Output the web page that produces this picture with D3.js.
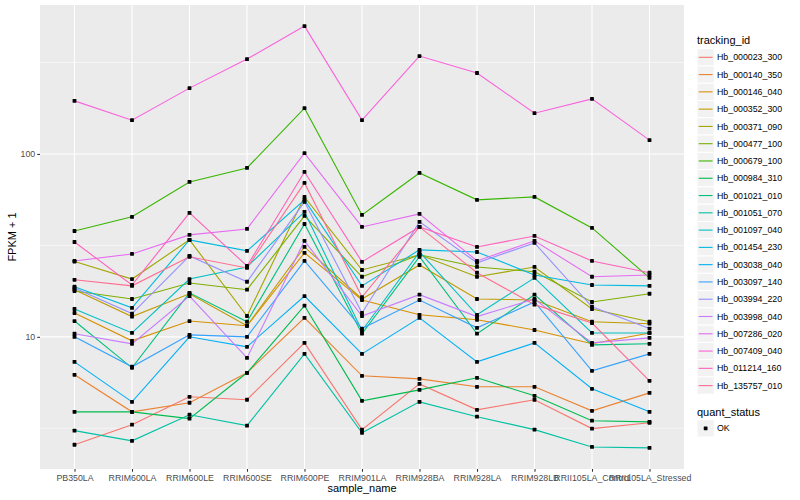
<!DOCTYPE html>
<html><head><meta charset="utf-8">
<script src="https://cdn.jsdelivr.net/npm/d3@7"></script>
<style>
body{margin:0;background:#fff}
text{font-family:"Liberation Sans",Arial,Helvetica,sans-serif}
</style>
</head><body>
<svg id="chart" width="800" height="500"></svg>
<script>
// ---------------- data ----------------
const samples = ["PB350LA","RRIM600LA","RRIM600LE","RRIM600SE","RRIM600PE","RRIM901LA","RRIM928BA","RRIM928LA","RRIM928LB","RRII105LA_Control","RRII105LA_Stressed"];
const trackingIds = ["Hb_000023_300","Hb_000140_350","Hb_000146_040","Hb_000352_300","Hb_000371_090","Hb_000477_100","Hb_000679_100","Hb_000984_310","Hb_001021_010","Hb_001051_070","Hb_001097_040","Hb_001454_230","Hb_003038_040","Hb_003097_140","Hb_003994_220","Hb_003998_040","Hb_007286_020","Hb_007409_040","Hb_011214_160","Hb_135757_010"];

// FPKM + 1, one value per sample
const Hb_000023_300 = [2.57, 3.31, 4.70, 4.53, 9.27, 3.11, 5.53, 3.99, 4.53, 3.15, 3.39];
const Hb_000140_350 = [6.20, 3.89, 4.36, 6.36, 12.7, 6.12, 5.89, 5.33, 5.33, 3.94, 4.94];
const Hb_000146_040 = [13.5, 9.51, 12.2, 11.5, 28.8, 15.9, 13.2, 12.4, 10.9, 9.16, 10.5];
const Hb_000352_300 = [18.1, 12.9, 17.2, 11.5, 31.0, 16.1, 24.7, 16.1, 15.9, 12.1, 11.8];
const Hb_000371_090 = [25.8, 20.7, 33.9, 13.0, 58.2, 23.2, 28.1, 21.3, 24.1, 14.2, 12.1];
const Hb_000477_100 = [17.8, 16.1, 19.7, 18.1, 45.8, 21.3, 28.1, 24.1, 22.7, 15.5, 17.2];
const Hb_000679_100 = [37.9, 45.3, 70.3, 83.8, 178, 46.4, 78.7, 56.1, 58.2, 39.4, 21.0];
const Hb_000984_310 = [3.89, 3.89, 3.57, 6.36, 14.8, 4.47, 5.13, 5.97, 4.76, 3.48, 3.43];
const Hb_001021_010 = [12.2, 6.77, 17.4, 12.1, 41.4, 10.4, 27.4, 10.4, 17.0, 9.04, 9.16];
const Hb_001051_070 = [3.07, 2.70, 3.75, 3.27, 8.07, 2.99, 4.41, 3.66, 3.11, 2.50, 2.47];
const Hb_001097_040 = [14.2, 10.5, 20.7, 24.1, 48.2, 10.8, 29.1, 13.2, 21.0, 10.5, 10.5];
const Hb_001454_230 = [18.8, 14.4, 33.9, 29.5, 56.1, 19.0, 29.9, 29.1, 21.8, 19.2, 19.0];
const Hb_003038_040 = [7.30, 4.41, 10.0, 8.82, 16.7, 8.07, 12.7, 7.30, 9.27, 5.20, 3.89];
const Hb_003097_140 = [10.0, 6.86, 10.25, 10.0, 26.0, 11.1, 15.9, 11.2, 15.5, 6.52, 8.07];
const Hb_003994_220 = [18.5, 13.4, 27.7, 20.0, 54.7, 13.5, 42.5, 25.4, 32.6, 14.6, 11.1];
const Hb_003998_040 = [10.4, 9.16, 16.7, 7.67, 33.5, 13.0, 17.0, 12.9, 16.1, 9.27, 9.87];
const Hb_007286_020 = [26.0, 28.4, 36.1, 38.9, 101, 39.9, 47.0, 26.0, 33.5, 21.3, 21.8];
const Hb_007409_040 = [195, 153, 229, 330, 500, 153, 343, 277, 167, 200, 119];
const Hb_011214_160 = [33.0, 19.2, 47.6, 24.4, 79.7, 25.7, 39.9, 31.0, 35.6, 26.0, 22.4];
const Hb_135757_010 = [20.5, 19.0, 27.4, 23.8, 69.4, 16.5, 39.9, 22.4, 15.0, 11.9, 5.75];

const seriesValues = [Hb_000023_300,Hb_000140_350,Hb_000146_040,Hb_000352_300,Hb_000371_090,Hb_000477_100,Hb_000679_100,Hb_000984_310,Hb_001021_010,Hb_001051_070,Hb_001097_040,Hb_001454_230,Hb_003038_040,Hb_003097_140,Hb_003994_220,Hb_003998_040,Hb_007286_020,Hb_007409_040,Hb_011214_160,Hb_135757_010];
const yTickValues = [10, 100];
const yMinorValues = [Math.pow(10,0.5), Math.pow(10,1.5), Math.pow(10,2.5)];
const quantStatus = ["OK"];

// ggplot hue palette for 20 levels
const palette = ["#F8766D","#EA8331","#D89000","#C09B00","#A3A500","#7CAE00","#39B600","#00BB4E","#00BF7D","#00C1A3","#00BFC4","#00BAE0","#00B0F6","#35A2FF","#9590FF","#C77CFF","#E76BF3","#FA62DB","#FF62BC","#FF6C91"];

// ---------------- chart ----------------
const series = trackingIds.map((id, i) => ({
  id, values: samples.map((s, j) => ({sample: s, v: seriesValues[i][j], status: "OK"}))
}));

const P = {l: 40, r: 684, t: 5, b: 469};
const svg = d3.select("#chart");

const x = d3.scalePoint().domain(samples).range([P.l, P.r]).padding(0.6);
const all = seriesValues.flat();
const lmin = Math.log10(d3.min(all)), lmax = Math.log10(d3.max(all));
const pad = (lmax - lmin) * 0.05;
const y = d3.scaleLog().domain([Math.pow(10, lmin - pad), Math.pow(10, lmax + pad)]).range([P.b, P.t]);
const color = d3.scaleOrdinal().domain(trackingIds).range(palette);

// panel
svg.append("rect").attr("x", P.l).attr("y", P.t).attr("width", P.r - P.l).attr("height", P.b - P.t).attr("fill", "#EBEBEB");

const grid = svg.append("g");
grid.selectAll("line.minor").data(yMinorValues).join("line")
  .attr("x1", P.l).attr("x2", P.r).attr("y1", d => y(d)).attr("y2", d => y(d))
  .attr("stroke", "#fff").attr("stroke-width", 0.55);
grid.selectAll("line.majy").data(yTickValues).join("line")
  .attr("x1", P.l).attr("x2", P.r).attr("y1", d => y(d)).attr("y2", d => y(d))
  .attr("stroke", "#fff").attr("stroke-width", 1.1);
grid.selectAll("line.majx").data(samples).join("line")
  .attr("x1", d => x(d)).attr("x2", d => x(d)).attr("y1", P.t).attr("y2", P.b)
  .attr("stroke", "#fff").attr("stroke-width", 1.1);

// lines
const line = d3.line().x(d => x(d.sample)).y(d => y(d.v));
svg.append("g").selectAll("path").data(series).join("path")
  .attr("d", d => line(d.values)).attr("fill", "none")
  .attr("stroke", d => color(d.id)).attr("stroke-width", 1.1);

// points
svg.append("g").selectAll("rect").data(series.flatMap(s => s.values)).join("rect")
  .attr("x", d => x(d.sample) - 1.9).attr("y", d => y(d.v) - 1.9)
  .attr("width", 3.8).attr("height", 3.8).attr("rx", 0.6).attr("fill", "#000");

// axes
const yAxis = svg.append("g").attr("transform", `translate(${P.l},0)`)
  .call(d3.axisLeft(y).tickValues(yTickValues).tickFormat(d3.format("d")).tickSize(2.75).tickPadding(2));
const xAxis = svg.append("g").attr("transform", `translate(0,${P.b})`)
  .call(d3.axisBottom(x).tickSize(2.75).tickPadding(3));
[yAxis, xAxis].forEach(a => {
  a.select(".domain").remove();
  a.selectAll(".tick line").attr("stroke", "#333333").attr("stroke-width", 1.07);
  a.selectAll(".tick text").attr("fill", "#4D4D4D").style("font-size", "8.8px")
    .style("font-family", '"Liberation Sans",Arial,sans-serif');
});

svg.append("text").attr("x", (P.l + P.r) / 2).attr("y", 492).attr("text-anchor", "middle")
  .style("font-size", "11px").text("sample_name");
svg.append("text").attr("transform", `translate(16,${(P.t + P.b) / 2}) rotate(-90)`)
  .attr("text-anchor", "middle").style("font-size", "11px").text("FPKM + 1");

// legend: tracking_id
const lg = svg.append("g");
lg.append("text").attr("x", 697).attr("y", 44).style("font-size", "11px").text("tracking_id");
const step = 17.28, y0 = 57.3;
const items = lg.selectAll("g.item").data(trackingIds).join("g")
  .attr("transform", (d, i) => `translate(697,${y0 + i * step})`);
items.append("rect").attr("x", 0).attr("y", -step / 2).attr("width", step).attr("height", step)
  .attr("fill", "#F2F2F2").attr("stroke", "#fff").attr("stroke-width", 1);
items.append("line").attr("x1", 1.7).attr("x2", step - 1.7).attr("y1", 0).attr("y2", 0)
  .attr("stroke", d => color(d)).attr("stroke-width", 1.1);
items.append("text").attr("x", 20).attr("y", 3.1).style("font-size", "8.8px").attr("fill", "#000").text(d => d);

// legend: quant_status
lg.append("text").attr("x", 697).attr("y", 416).style("font-size", "11px").text("quant_status");
const qs = lg.selectAll("g.q").data(quantStatus).join("g")
  .attr("transform", (d, i) => `translate(697,${428.3 + i * step})`);
qs.append("rect").attr("x", 0).attr("y", -step / 2).attr("width", step).attr("height", step)
  .attr("fill", "#F2F2F2").attr("stroke", "#fff").attr("stroke-width", 1);
qs.append("rect").attr("x", step / 2 - 1.9).attr("y", -1.9).attr("width", 3.8).attr("height", 3.8).attr("rx", 0.6).attr("fill", "#000");
qs.append("text").attr("x", 20).attr("y", 3.1).style("font-size", "8.8px").text(d => d);
</script>
</body></html>
